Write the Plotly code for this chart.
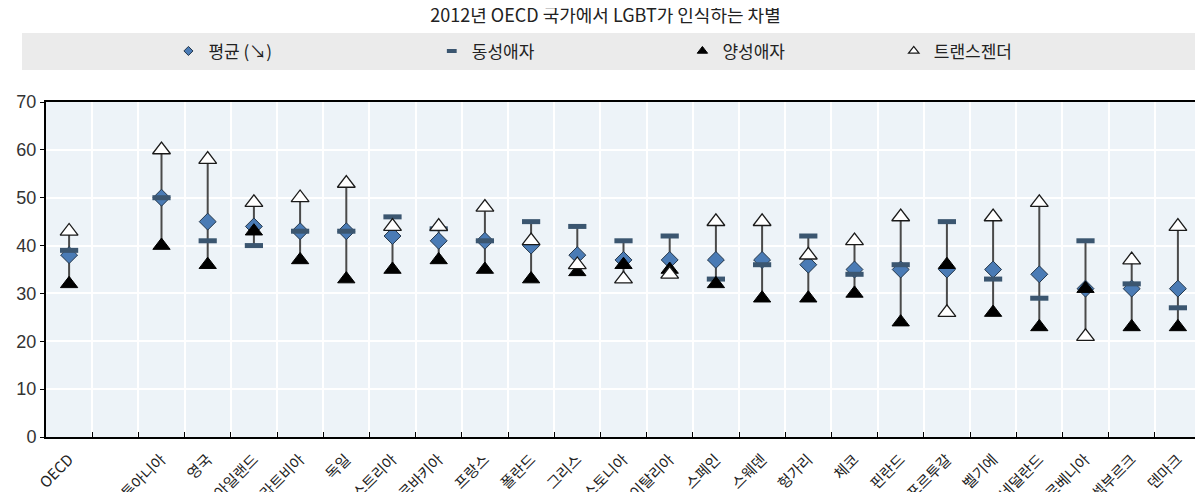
import plotly.graph_objects as go

countries = ["OECD", " ", "리투아니아", "영국", "아일랜드", "라트비아", "독일", "오스트리아",
             "슬로바키아", "프랑스", "폴란드", "그리스", "에스토니아", "이탈리아", "스페인",
             "스웨덴", "헝가리", "체코", "핀란드", "포르투갈", "벨기에", "네덜란드",
             "슬로베니아", "룩셈부르크", "덴마크"]
mean_vals = [38, None, 50, 45, 44, 43, 43, 42, 41, 41, 40, 38, 37, 37, 37, 37, 36, 35, 35, 35, 35, 34, 31, 31, 31]
gay_vals = [39, None, 50, 41, 40, 43, 43, 46, 43.5, 41, 45, 44, 41, 42, 33, 36, 42, 34, 36, 45, 33, 29, 41, 32, 27]
bi_vals = [32, None, 40, 36, 43, 37, 33, 35, 37, 35, 33, 34.5, 36, 35, 32, 29, 29, 30, 24, 36, 26, 23, 31, 23, 23]
trans_vals = [43, None, 60, 58, 49, 50, 53, 44, 44, 48, 41, 36, 33, 34, 45, 45, 38, 41, 46, 26, 46, 49, 21, 37, 44]

title_text = "2012년 OECD 국가에서 LGBT가 인식하는 차별"
names = ["평균 (↘)", "동성애자", "양성애자", "트랜스젠더"]

mean_style = dict(symbol="diamond", color="#4a7bb5", line=dict(color="#23364a", width=1))
gay_style = dict(symbol="line-ew", color="#3b5670", line=dict(color="#3b5670", width=5))
bi_style = dict(symbol="triangle-up", color="#000000", line=dict(color="#000000", width=1))
trans_style = dict(symbol="triangle-up", color="#ffffff", line=dict(color="#1a1a1a", width=1.3))

# range lines (min to max of the three groups)
lx, ly = [], []
for c, g, b, t in zip(countries, gay_vals, bi_vals, trans_vals):
    if g is None:
        continue
    lx += [c, c, None]
    ly += [min(g, b, t), max(g, b, t), None]

fig = go.Figure()
fig.add_trace(go.Scatter(x=lx, y=ly, mode="lines", line=dict(color="#4a4a4a", width=2),
                         showlegend=False, hoverinfo="skip"))
series = [(mean_vals, mean_style, 13), (gay_vals, gay_style, 13),
          (bi_vals, bi_style, 15), (trans_vals, trans_style, 15.5)]
for i, (vals, st, sz) in enumerate(series):
    fig.add_trace(go.Scatter(x=countries, y=vals, mode="markers", name=names[i],
                             showlegend=False, marker=dict(size=sz, **st)))

# legend entries (small symbols, like the reference)
legend_sizes = [7, 7, 9, 9]
legend_ids = ["legend", "legend2", "legend3", "legend4"]
for i, (vals, st, sz) in enumerate(series):
    st2 = dict(st)
    if i == 1:
        st2 = dict(st, line=dict(color="#3b5670", width=4))
    fig.add_trace(go.Scatter(x=[None], y=[None], mode="markers", name=names[i],
                             legend=legend_ids[i], showlegend=True,
                             marker=dict(size=legend_sizes[i], **st2)))

fig.add_shape(type="rect", xref="paper", yref="paper", x0=-0.0208, x1=1.01, y0=1.0955, y1=1.206,
              fillcolor="#ebebeb", line=dict(width=0), layer="below")

legend_font = dict(size=17, family="Noto Sans CJK KR", color="#222")
def leg(xpos):
    return dict(orientation="h", x=xpos, xanchor="left", y=1.151, yanchor="middle",
                bgcolor="rgba(0,0,0,0)", font=legend_font, itemwidth=30,
                itemclick=False, itemdoubleclick=False)

fig.update_layout(
    width=1195, height=484,
    margin=dict(l=38, r=2, t=94, b=55, autoexpand=False),
    paper_bgcolor="white",
    plot_bgcolor="#edf3f8",
    font=dict(family="Noto Sans CJK KR, Liberation Sans, sans-serif", color="#222", size=14),
    title=dict(text=title_text, x=0.5, xanchor="center", y=0.984, yanchor="middle",
               font=dict(size=18, color="#222", family="Noto Sans CJK KR")),
    showlegend=True,
    legend=leg(0.106),
    legend2=leg(0.334),
    legend3=leg(0.551),
    legend4=leg(0.734),
    xaxis=dict(type="category", categoryorder="array", categoryarray=countries,
               tickson="boundaries", ticks="inside", ticklen=5, tickcolor="#000",
               showgrid=True, gridcolor="white", gridwidth=1.5,
               showline=True, linecolor="#000", linewidth=2, mirror=True,
               tickangle=-45, tickfont=dict(size=15, family="Noto Sans CJK KR", color="#222"),
               ticklabelstandoff=6,
               automargin=False, range=[-0.5, 24.5]),
    yaxis=dict(range=[0, 70], dtick=10, showgrid=True, gridcolor="white", gridwidth=1.5,
               showline=True, linecolor="#000", linewidth=2, mirror=True,
               ticks="outside", ticklen=4, tickcolor="#000", zeroline=False,
               tickfont=dict(size=18, family="Liberation Sans, Arial", color="#333"),
               automargin=False),
)

fig.write_html("out.html")
